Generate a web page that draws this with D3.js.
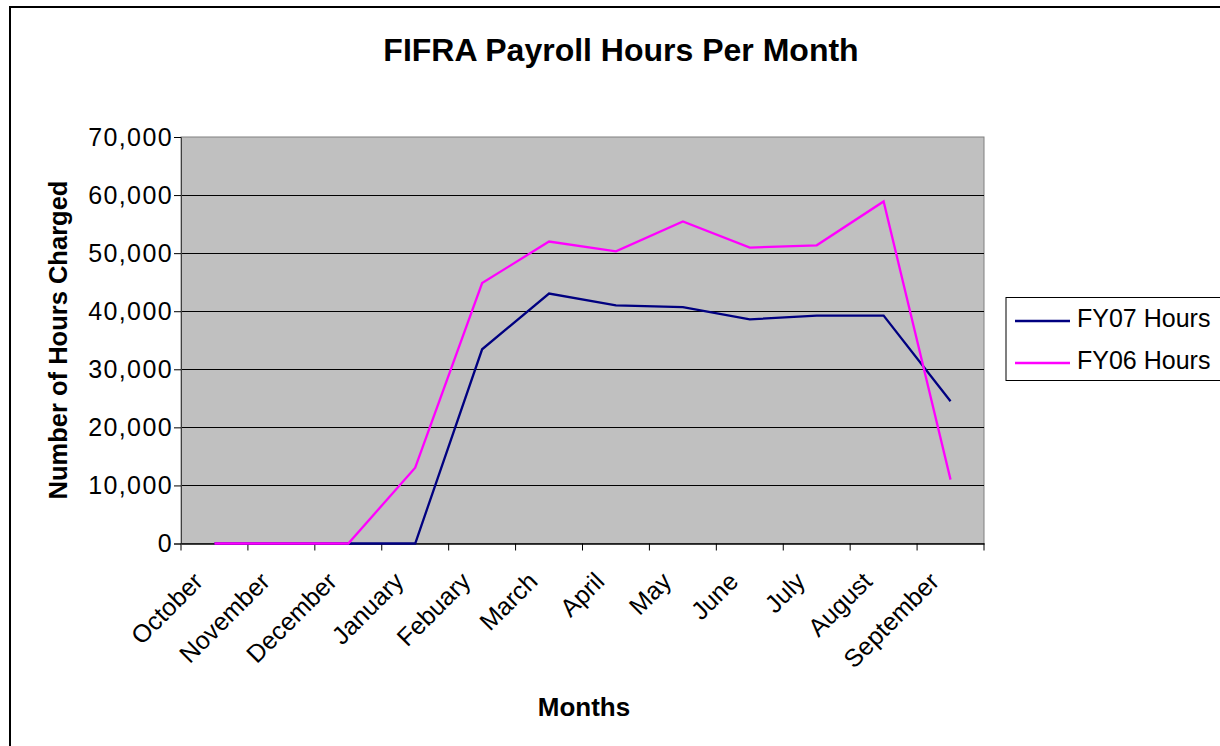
<!DOCTYPE html>
<html><head><meta charset="utf-8">
<script src="https://cdn.jsdelivr.net/npm/d3@7"></script>
<style>body{margin:0;background:#fff}svg{display:block;font-family:"Liberation Sans",Arial,sans-serif}</style>
</head><body><svg id="c" width="1220" height="746"></svg>
<script>
const months = ["October","November","December","January","Febuary","March","April","May","June","July","August","September"];
const fy07 = [0,0,0,0,33450,43050,41000,40700,38600,39250,39250,24500];
const fy06 = [0,0,0,13050,44850,52000,50300,55450,50950,51350,58900,11000];
const yTicks = [0,10000,20000,30000,40000,50000,60000,70000];
const seriesNames = ["FY07 Hours","FY06 Hours"];
const seriesColors = ["#000080","#ff00ff"];

const svg = d3.select("#c");
const L=181, R=984, T=137, B=543.5;
svg.append("rect").attr("x",10).attr("y",7).attr("width",1230).attr("height",760).attr("fill","#fff").attr("stroke","#000").attr("stroke-width",2);

const x = d3.scaleBand().domain(months).range([L,R]);
const y = d3.scaleLinear().domain([0,70000]).range([B,T]);

svg.append("rect").attr("x",L).attr("y",T).attr("width",R-L).attr("height",B-T).attr("fill","#c0c0c0").attr("stroke","#808080").attr("stroke-width",1);

svg.append("g").selectAll("line").data(yTicks.slice(1,-1)).join("line")
  .attr("x1",L).attr("x2",R).attr("y1",d=>Math.round(y(d))+0.5).attr("y2",d=>Math.round(y(d))+0.5)
  .attr("stroke","#000").attr("stroke-width",1);

const fmt = d3.format(",");
const yAxis = svg.append("g").attr("transform",`translate(${L},0)`)
  .call(d3.axisLeft(y).tickValues(yTicks).tickFormat(fmt).tickSize(7).tickPadding(1));
yAxis.select(".domain").attr("stroke","#404040");
yAxis.selectAll("line").attr("stroke","#000");
yAxis.selectAll("text").attr("font-size",25).attr("fill","#000").attr("letter-spacing","1.4px").attr("font-family","Liberation Sans, Arial, sans-serif");

const xAxis = svg.append("g").attr("transform",`translate(0,${B})`)
  .call(d3.axisBottom(x).tickSize(0).tickFormat(""));
xAxis.select(".domain").attr("stroke","#000").attr("stroke-width",1.5);
const bounds = months.map(m=>x(m)).concat([R]);
svg.append("g").selectAll("line").data(bounds).join("line")
  .attr("x1",d=>d).attr("x2",d=>d).attr("y1",B).attr("y2",B+7).attr("stroke","#000");

svg.append("g").selectAll("text").data(months).join("text")
  .attr("transform",d=>`translate(${x(d)+x.bandwidth()/2-10},583) rotate(-45)`)
  .attr("text-anchor","end").attr("font-size",25).attr("fill","#000").text(d=>d);

const line = d3.line().x((d,i)=>x(months[i])+x.bandwidth()/2).y(d=>y(d));
[fy07,fy06].forEach((s,k)=>{
  svg.append("path").datum(s).attr("d",line).attr("fill","none").attr("stroke",seriesColors[k]).attr("stroke-width",2.3).attr("stroke-linejoin","miter");
});

svg.append("text").attr("x",621).attr("y",61).attr("text-anchor","middle").attr("font-size",32).attr("font-weight","bold").text("FIFRA Payroll Hours Per Month");
svg.append("text").attr("transform","translate(67,340) rotate(-90)").attr("text-anchor","middle").attr("font-size",25.5).attr("font-weight","bold").text("Number of Hours Charged");
svg.append("text").attr("x",584).attr("y",716).attr("text-anchor","middle").attr("font-size",26).attr("font-weight","bold").text("Months");

const lg = svg.append("g");
lg.append("rect").attr("x",1006).attr("y",297.5).attr("width",220).attr("height",83).attr("fill","#fff").attr("stroke","#000").attr("stroke-width",1);
seriesNames.forEach((n,i)=>{
  const yy = 321 + i*42;
  lg.append("line").attr("x1",1015).attr("x2",1070).attr("y1",yy).attr("y2",yy).attr("stroke",seriesColors[i]).attr("stroke-width",2.3);
  lg.append("text").attr("x",1077).attr("y",yy+6).attr("font-size",25).text(n);
});
</script></body></html>
